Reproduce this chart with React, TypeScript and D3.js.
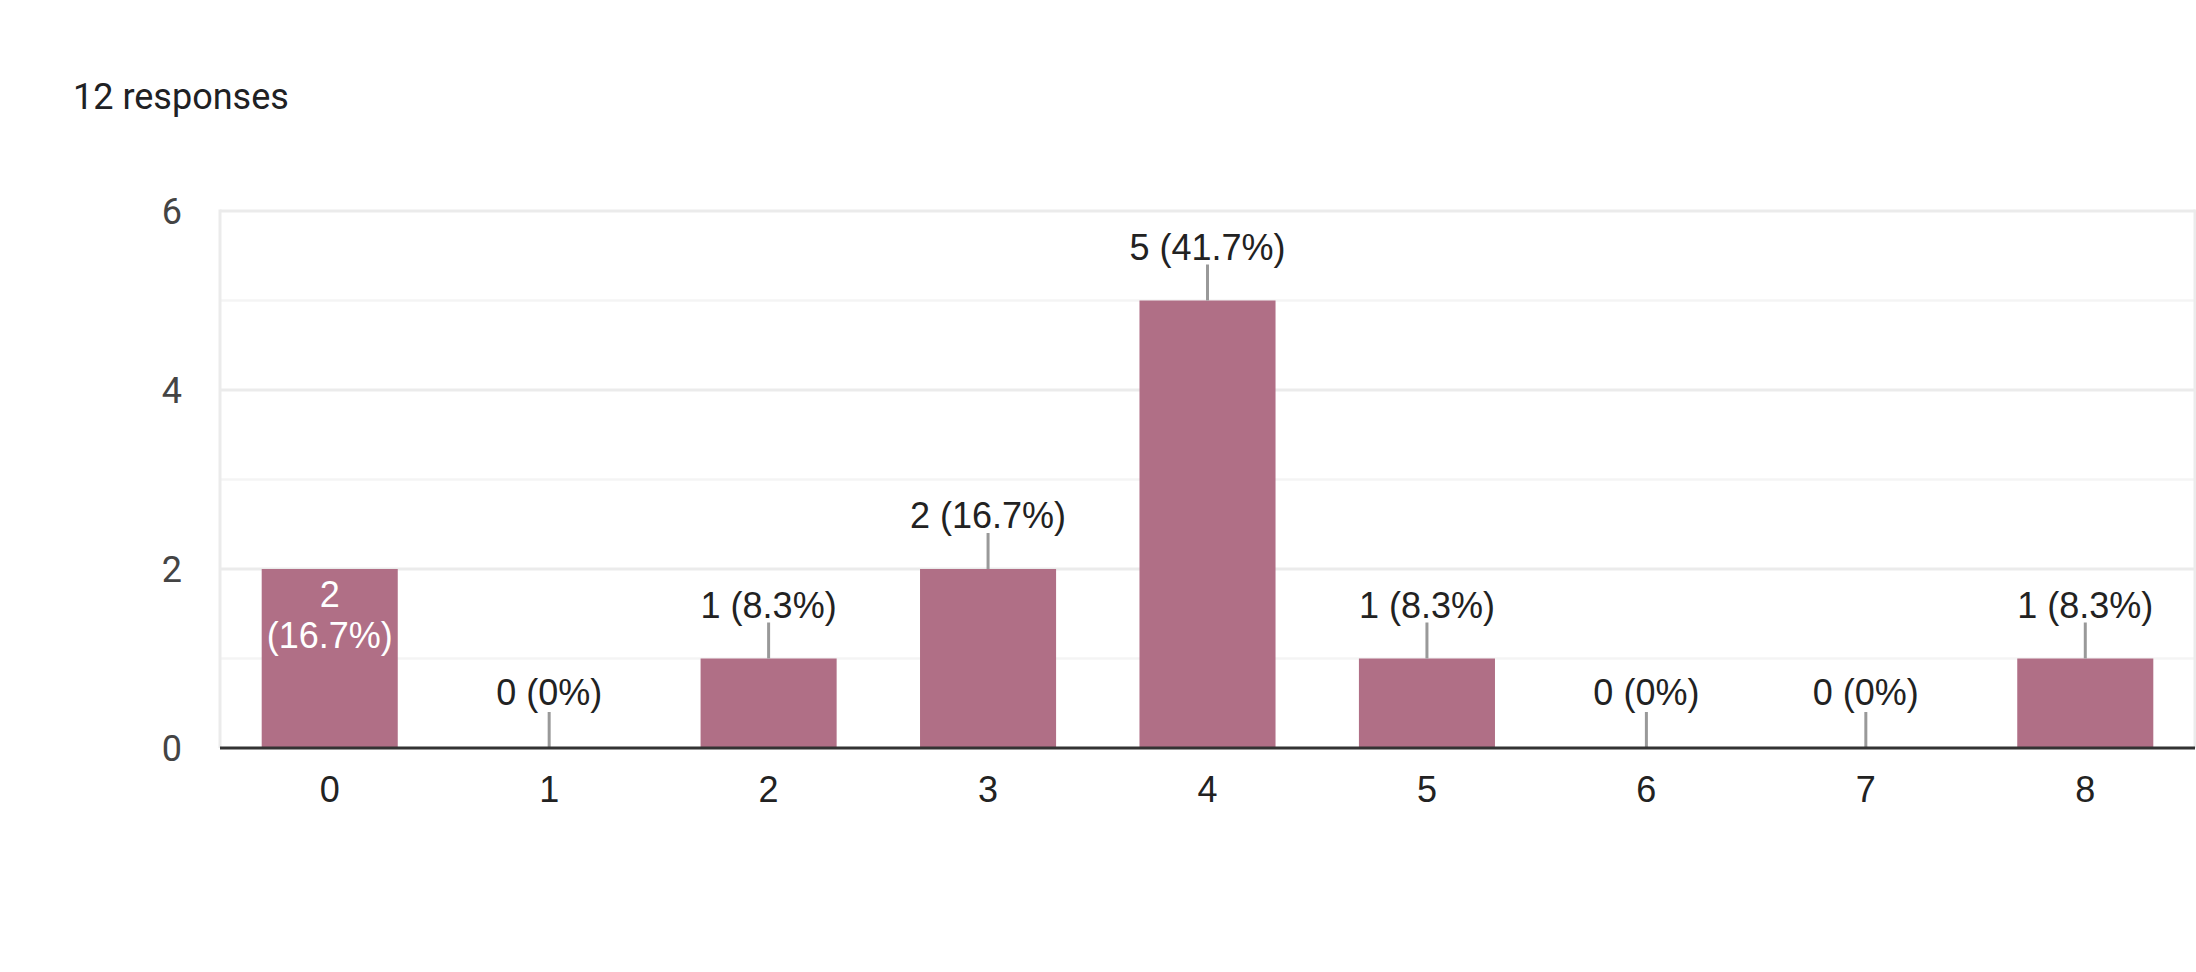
import React from 'react';
import * as d3 from 'd3';

const categories = ['0', '1', '2', '3', '4', '5', '6', '7', '8'];
const counts = [2, 0, 1, 2, 5, 1, 0, 0, 1];
const percents = ['16.7%', '0%', '8.3%', '16.7%', '41.7%', '8.3%', '0%', '0%', '8.3%'];
const insideLabels = ['0'];
const yTicks = [0, 2, 4, 6];
const gridValues = [1, 2, 3, 4, 5, 6];
const responseCount = 12;

const width = 2196;
const height = 972;
const margin = { top: 211, right: 1, bottom: 224, left: 220 };

const BAR_COLOR = '#b06f86';
const LABEL_FONT = '"Liberation Sans", Arial, sans-serif';
const AXIS_FONT = 'Roboto, "Liberation Sans", Arial, sans-serif';

const App: React.FC = () => {
  const x = d3
    .scaleBand()
    .domain(categories)
    .range([margin.left, width - margin.right])
    .paddingInner(0.38)
    .paddingOuter(0.19);

  const y = d3
    .scaleLinear()
    .domain([0, 6])
    .range([height - margin.bottom, margin.top]);

  const left = margin.left;
  const right = width - margin.right;

  return (
    <svg
      width={width}
      height={height}
      style={{ position: 'absolute', left: 0, top: 0, background: '#fff' }}
    >
      <text x={73} y={109} fontFamily={AXIS_FONT} fontSize={36} fill="#202124">
        {responseCount} responses
      </text>

      {/* gridlines: labelled ones a bit darker */}
      {gridValues.map((v) => (
        <line
          key={'g' + v}
          x1={left}
          x2={right}
          y1={y(v)}
          y2={y(v)}
          stroke={v % 2 === 0 ? '#ebebeb' : '#f4f4f4'}
          strokeWidth={v % 2 === 0 ? 3 : 2.5}
        />
      ))}
      <line x1={left} x2={left} y1={y(6) - 1.5} y2={y(0)} stroke="#ebebeb" strokeWidth={3} />
      <line x1={right} x2={right} y1={y(6) - 1.5} y2={y(0)} stroke="#ebebeb" strokeWidth={3} />

      {yTicks.map((t) => (
        <text
          key={'y' + t}
          x={182}
          y={y(t)}
          dy="0.36em"
          textAnchor="end"
          fontFamily={AXIS_FONT}
          fontSize={36}
          fill="#444444"
        >
          {t}
        </text>
      ))}

      {categories.map((c, i) => {
        const x0 = x(c) || 0;
        const cx = x0 + x.bandwidth() / 2;
        const top = y(counts[i]);
        const inside = insideLabels.includes(c);
        return (
          <g key={'b' + c}>
            <rect x={x0} y={top} width={x.bandwidth()} height={y(0) - top} fill={BAR_COLOR} />
            {inside ? (
              <text textAnchor="middle" fontFamily={LABEL_FONT} fontSize={36} fill="#ffffff">
                <tspan x={cx} y={top + 38}>
                  {counts[i]}
                </tspan>
                <tspan x={cx} y={top + 79}>
                  ({percents[i]})
                </tspan>
              </text>
            ) : (
              <>
                <line x1={cx} x2={cx} y1={top - 36} y2={top} stroke="#999999" strokeWidth={3} />
                <text
                  x={cx}
                  y={top - (counts[i] === 0 ? 43 : 41)}
                  textAnchor="middle"
                  fontFamily={LABEL_FONT}
                  fontSize={36}
                  fill="#222222"
                >
                  {counts[i]} ({percents[i]})
                </text>
              </>
            )}
            <text
              x={cx}
              y={802}
              textAnchor="middle"
              fontFamily={LABEL_FONT}
              fontSize={36}
              fill="#222222"
            >
              {c}
            </text>
          </g>
        );
      })}

      <line x1={left} x2={right} y1={y(0)} y2={y(0)} stroke="#333333" strokeWidth={3} />
    </svg>
  );
};

export default App;
